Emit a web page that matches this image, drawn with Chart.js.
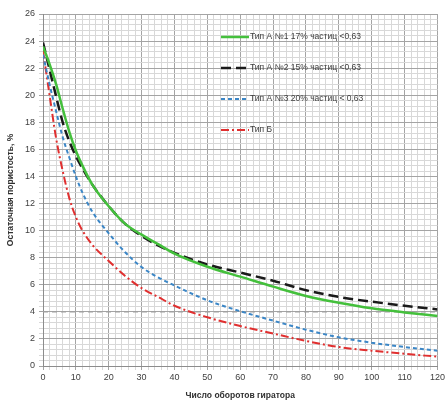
<!DOCTYPE html>
<html>
<head>
<meta charset="utf-8">
<script src="https://cdn.jsdelivr.net/npm/chart.js@4/dist/chart.umd.min.js"></script>
<style>
    html, body { margin: 0; padding: 0; background: #fff; }
    #wrap { width: 447px; height: 401px; position: relative; }
</style>
</head>
<body>
<div id="wrap"><canvas id="chart"></canvas></div>
<script>
    // x = число оборотов гиратора
    const xValues = [0, 2, 4, 6, 8, 10, 12, 15, 20, 25, 30, 35, 40, 50, 60, 70, 80, 90, 100, 110, 120];

    const typeA1 = [23.6, 22.3, 20.8, 19.0, 17.3, 15.9, 14.8, 13.4, 11.8, 10.5, 9.7, 9.0, 8.3, 7.33, 6.6, 5.86, 5.17, 4.67, 4.26, 3.96, 3.69];
    const typeA2 = [23.9, 21.9, 19.9, 18.0, 16.6, 15.5, 14.6, 13.4, 11.8, 10.5, 9.6, 8.9, 8.35, 7.5, 6.9, 6.3, 5.6, 5.1, 4.75, 4.45, 4.18];
    const typeA3 = [23.0, 20.8, 18.8, 16.9, 15.4, 14.0, 12.8, 11.4, 9.8, 8.4, 7.3, 6.55, 5.95, 4.85, 4.05, 3.35, 2.68, 2.12, 1.72, 1.4, 1.13];
    const typeB = [23.3, 20.0, 16.8, 14.4, 12.4, 11.0, 10.0, 8.95, 7.75, 6.65, 5.75, 5.1, 4.45, 3.6, 2.95, 2.4, 1.85, 1.4, 1.13, 0.9, 0.69];

    const limitX = [0, 120];
    const limitY = [4, 4];

    const seriesLabels = [
        'Тип А №1 17% частиц <0,63',
        'Тип А №2 15% частиц <0,63',
        'Тип А №3 20% частиц < 0,63',
        'Тип Б'
    ];

    const xTitle = 'Число оборотов гиратора';
    const yTitle = 'Остаточная пористость, %';

    const FONT = '"Liberation Sans", Arial, sans-serif';

    function pts(xs, ys) {
        return xs.map((x, i) => ({ x: x, y: ys[i] }));
    }

    function isMultiple(v, step) {
        return Math.abs(v / step - Math.round(v / step)) < 1e-6;
    }

    // legend drawn inside the plot, top right
    const insideLegend = {
        id: 'insideLegend',
        afterDatasetsDraw(chart) {
            const ctx = chart.ctx;
            const x0 = 221, x1 = 249, top = 37, gap = 31;
            ctx.save();
            ctx.font = '8.5px ' + FONT;
            ctx.textBaseline = 'middle';
            chart.data.datasets.forEach((ds, i) => {
                if (ds.hideInLegend) return;
                const y = top + i * gap;
                ctx.strokeStyle = ds.borderColor;
                ctx.lineWidth = ds.borderWidth;
                ctx.setLineDash(ds.borderDash || []);
                ctx.beginPath();
                ctx.moveTo(x0, y);
                ctx.lineTo(x1, y);
                ctx.stroke();
                ctx.setLineDash([]);
                ctx.fillStyle = '#404040';
                ctx.fillText(ds.label, x1 + 1, y);
            });
            ctx.restore();
        }
    };

    function line(label, xs, ys, color, dash, width) {
        return {
            label: label,
            data: pts(xs, ys),
            borderColor: color,
            backgroundColor: color,
            borderWidth: width,
            borderDash: dash,
            pointRadius: 0,
            cubicInterpolationMode: 'monotone',
            fill: false
        };
    }

    new Chart(document.getElementById('chart').getContext('2d'), {
        type: 'line',
        data: {
            datasets: [
                line(seriesLabels[0], xValues, typeA1, '#44c03c', [], 2.5),
                line(seriesLabels[1], xValues, typeA2, '#1a1a1a', [10, 5], 2.5),
                line(seriesLabels[2], xValues, typeA3, '#3b86c6', [4, 3], 2),
                line(seriesLabels[3], xValues, typeB, '#e02f2f', [8, 3, 2, 3], 2),
                Object.assign(line('4%', limitX, limitY, '#a0a0a0', [5, 4], 1.5), { hideInLegend: true, cubicInterpolationMode: 'default', tension: 0 })
            ]
        },
        options: {
            responsive: true,
            maintainAspectRatio: false,
            animation: false,
            layout: { padding: { top: 14, right: 5, left: 6, bottom: 0 } },
            plugins: {
                legend: { display: false },
                tooltip: { enabled: false }
            },
            scales: {
                x: {
                    type: 'linear',
                    min: 0,
                    max: 120,
                    afterFit: (s) => { s.height = 35; },
                    ticks: {
                        stepSize: 2,
                        autoSkip: false,
                        maxRotation: 0,
                        maxTicksLimit: 100,
                        padding: 2,
                        color: '#404040',
                        font: { family: FONT, size: 9 },
                        callback: (v) => isMultiple(v, 10) ? v : ''
                    },
                    grid: {
                        color: (c) => isMultiple(c.tick.value, 10) ? '#a4a4a4' : '#d8d8d8',
                        tickLength: 4
                    },
                    border: { color: '#8c8c8c' },
                    title: {
                        display: true,
                        text: xTitle,
                        color: '#303030',
                        font: { family: FONT, size: 8.5, weight: 'bold' },
                        padding: { top: 0, bottom: 0 }
                    }
                },
                y: {
                    min: 0,
                    max: 26,
                    afterFit: (s) => { s.width = 37; },
                    ticks: {
                        stepSize: 0.4,
                        autoSkip: false,
                        maxTicksLimit: 100,
                        padding: 4,
                        color: '#404040',
                        font: { family: FONT, size: 9 },
                        callback: (v) => isMultiple(v, 2) ? Math.round(v) : ''
                    },
                    grid: {
                        color: (c) => isMultiple(c.tick.value, 2) ? '#a4a4a4' : '#d8d8d8',
                        tickLength: 4
                    },
                    border: { color: '#8c8c8c' },
                    title: {
                        display: true,
                        text: yTitle,
                        color: '#303030',
                        font: { family: FONT, size: 8.5, weight: 'bold' },
                        padding: { top: 0, bottom: 0 }
                    }
                }
            }
        },
        plugins: [insideLegend]
    });
</script>
</body>
</html>
